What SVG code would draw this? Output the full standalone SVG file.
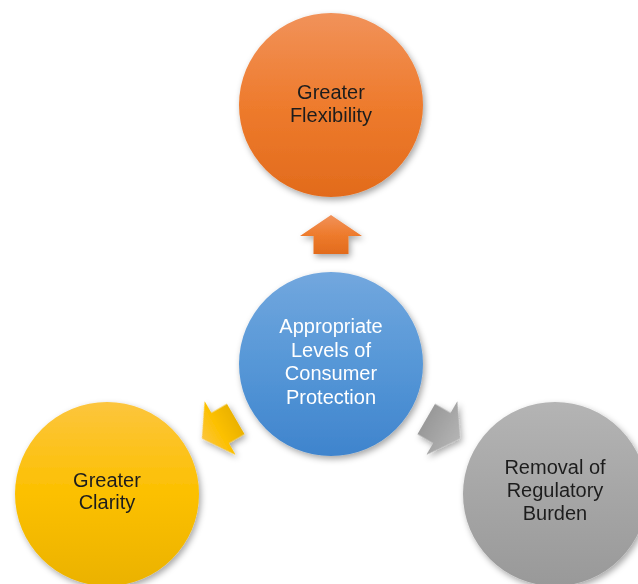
<svg xmlns="http://www.w3.org/2000/svg" width="638" height="584" viewBox="0 0 638 584">
  <defs>
    <linearGradient id="gOrange" x1="0" y1="0" x2="0" y2="1">
      <stop offset="0" stop-color="#F1925A"/>
      <stop offset="0.5" stop-color="#EE7B2D"/>
      <stop offset="1" stop-color="#E26B1C"/>
    </linearGradient>
    <linearGradient id="gBlue" x1="0" y1="0" x2="0" y2="1">
      <stop offset="0" stop-color="#72A7DE"/>
      <stop offset="0.5" stop-color="#5697D7"/>
      <stop offset="1" stop-color="#3F84CD"/>
    </linearGradient>
    <linearGradient id="gYellow" x1="0" y1="0" x2="0" y2="1">
      <stop offset="0" stop-color="#FCC53D"/>
      <stop offset="0.5" stop-color="#FCC000"/>
      <stop offset="1" stop-color="#EBB200"/>
    </linearGradient>
    <linearGradient id="gGray" x1="0" y1="0" x2="0" y2="1">
      <stop offset="0" stop-color="#B4B4B4"/>
      <stop offset="0.5" stop-color="#A6A6A6"/>
      <stop offset="1" stop-color="#999999"/>
    </linearGradient>
    <filter id="shadow" x="-20%" y="-20%" width="140%" height="140%">
      <feGaussianBlur in="SourceAlpha" stdDeviation="3"/>
      <feOffset dx="2" dy="3" result="blur"/>
      <feFlood flood-color="#000" flood-opacity="0.35"/>
      <feComposite in2="blur" operator="in"/>
      <feMerge>
        <feMergeNode/>
        <feMergeNode in="SourceGraphic"/>
      </feMerge>
    </filter>
    <!-- block arrow pointing up, centred on (0,0) -->
    <polygon id="blockArrow" points="0,-19 31,2 17.5,2 17.5,20 -17.5,20 -17.5,2 -31,2"/>
  </defs>
  <style>
    .label { font-family: "Liberation Sans", Arial, sans-serif; font-size: 20px; text-anchor: middle; fill: #1E1E1E; }
    .light { fill: #FFFFFF; }
  </style>

  <g id="connectors" filter="url(#shadow)">
    <use href="#blockArrow" transform="translate(331 234)" fill="url(#gOrange)"/>
    <use href="#blockArrow" transform="rotate(-120 331 364) translate(331 234)" fill="url(#gYellow)"/>
    <use href="#blockArrow" transform="rotate(120 331 364) translate(331 234)" fill="url(#gGray)"/>
  </g>

  <g id="node-flexibility" filter="url(#shadow)">
    <circle cx="331" cy="105" r="92" fill="url(#gOrange)"/>
    <text class="label" x="331" y="99">Greater</text>
    <text class="label" x="331" y="122">Flexibility</text>
  </g>

  <g id="node-protection" filter="url(#shadow)">
    <circle cx="331" cy="364" r="92" fill="url(#gBlue)"/>
    <text class="label light" x="331" y="333">Appropriate</text>
    <text class="label light" x="331" y="356.5">Levels of</text>
    <text class="label light" x="331" y="380">Consumer</text>
    <text class="label light" x="331" y="403.5">Protection</text>
  </g>

  <g id="node-clarity" filter="url(#shadow)">
    <circle cx="107" cy="494" r="92" fill="url(#gYellow)"/>
    <text class="label" x="107" y="487">Greater</text>
    <text class="label" x="107" y="509">Clarity</text>
  </g>

  <g id="node-burden" filter="url(#shadow)">
    <circle cx="555" cy="494" r="92" fill="url(#gGray)"/>
    <text class="label" x="555" y="474">Removal of</text>
    <text class="label" x="555" y="497">Regulatory</text>
    <text class="label" x="555" y="520">Burden</text>
  </g>
</svg>
